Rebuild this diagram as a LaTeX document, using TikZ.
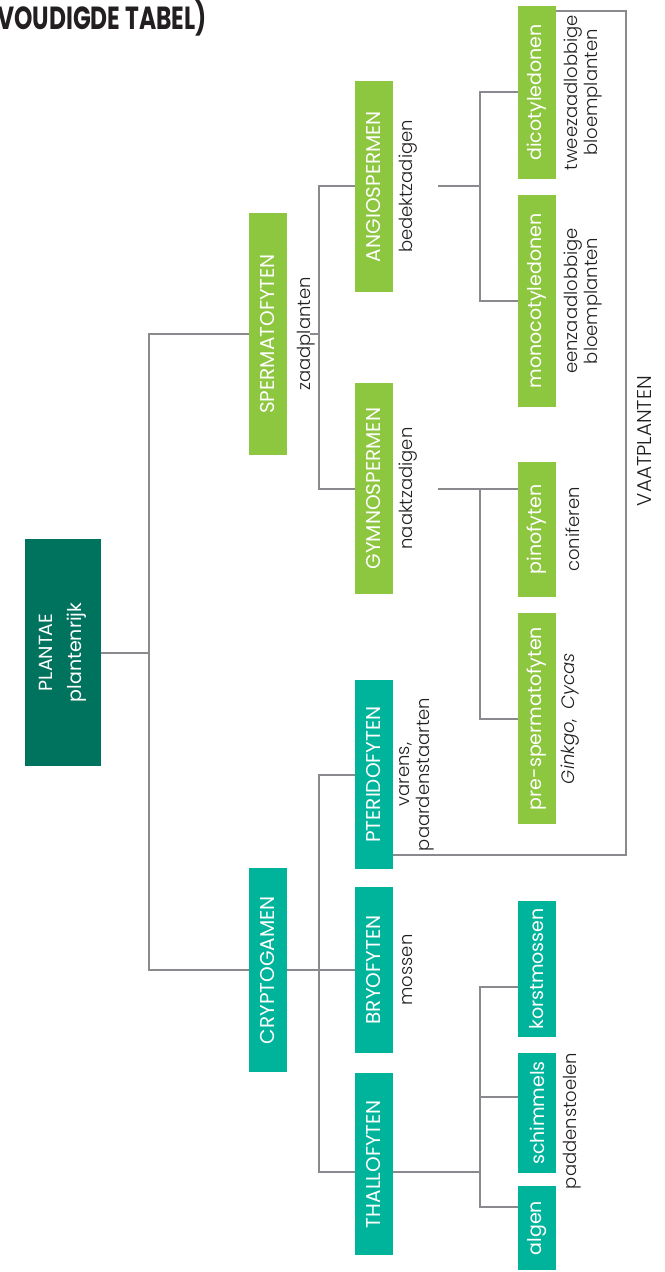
\documentclass[tikz,border=0pt]{standalone}
\usepackage{fontspec}
\setmainfont{Poppins}
\newfontfamily\thinfont{Poppins Light}[ItalicFont={Poppins Light Italic}]
\definecolor{rootgreen}{RGB}{0,115,94}
\definecolor{seedgreen}{RGB}{141,198,63}
\definecolor{sporeteal}{RGB}{0,180,156}
\definecolor{linegray}{RGB}{138,138,142}
\definecolor{inkblack}{RGB}{35,31,32}

\begin{document}
\begin{tikzpicture}[x=0.5pt,y=-0.5pt]
\tikzset{
  groep/.style={rotate=90, minimum height=19pt, inner sep=0pt, text=white,
    font=\fontsize{9.5}{11}\selectfont},
  kop/.style={groep, font=\fontsize{10}{12}\selectfont},
  zaad/.style={fill=seedgreen},
  spoor/.style={fill=sporeteal},
  uitleg/.style={rotate=90, anchor=north, inner sep=0pt, align=center, text=inkblack,
    font=\thinfont\fontsize{9}{10}\selectfont, execute at begin node=\vphantom{dg}},
  tak/.style={draw=linegray, line width=1pt},
}
\useasboundingbox (0,0) rectangle (664,1272);

\node[anchor=base west, inner sep=0pt, text=inkblack, font=\bfseries\fontsize{16}{19}\selectfont]
  (titel) at (-3,30) {\scalebox{0.73}[1]{VOUDIGDE TABEL)}};

% groepen
\node[groep, fill=rootgreen, minimum height=38pt, minimum width=113.5pt, align=center,
  font=\fontsize{9.5}{14.5}\selectfont] (plantae) at (63,652.5) {PLANT\kern-0.06em AE\\plantenrijk};
\node[kop, zaad, minimum width=121pt] (sperma) at (268,334) {SPERMATOFYTEN};
\node[kop, spoor, minimum width=102pt] (crypto) at (268,970) {CRYPTOGAMEN};
\node[kop, zaad, minimum width=105.5pt] (angio) at (374,186.5) {ANGIOSPERMEN};
\node[kop, zaad, minimum width=105.5pt] (gymno) at (374,488.5) {GYMNOSPERMEN};
\node[kop, spoor, minimum width=94.5pt] (pterido) at (374,774.5) {PTERIDOFYTEN};
\node[kop, spoor, minimum width=83pt] (bryo) at (374,970) {BRYOFYTEN};
\node[kop, spoor, minimum width=91pt] (thallo) at (374,1164) {THALLOFYTEN};
\node[groep, zaad, minimum width=86.5pt] (dicot) at (537,92.5) {dicotyledonen};
\node[groep, zaad, minimum width=106pt] (monocot) at (537,301) {monocotyledonen};
\node[groep, zaad, minimum width=67.5pt] (pino) at (537,529.5) {pinofyten};
\node[groep, zaad, minimum width=105.5pt] (presperm) at (537,718.5) {pre-spermatofyten};
\node[groep, spoor, minimum width=68pt] (korst) at (537,969) {korstmossen};
\node[groep, spoor, minimum width=60pt] (schimmel) at (537,1113) {schimmels};
\node[groep, spoor, minimum width=42pt] (algen) at (537,1228) {algen};

% uitleg
\node[uitleg] (zaadpl) at ([xshift=4.5pt]sperma.south) {zaadplanten};
\node[uitleg] (bedekt) at ([xshift=2.5pt]angio.south) {bedektzadigen};
\node[uitleg] (naakt) at ([xshift=2.5pt]gymno.south) {naaktzadigen};
\node[uitleg] (varens) at ([xshift=3pt]pterido.south) {varens,\\paardenstaarten};
\node[uitleg] (mossen) at ([xshift=2.5pt]bryo.south) {mossen};
\node[uitleg] (twee) at ([xshift=3.5pt]dicot.south) {tweezaadlobbige\\bloemplanten};
\node[uitleg] (een) at ([xshift=3.5pt]monocot.south) {eenzaadlobbige\\bloemplanten};
\node[uitleg] (conif) at ([xshift=4.5pt]pino.south) {coniferen};
\node[uitleg] (cycas) at ([xshift=2pt]presperm.south) {\textit{Ginkgo},\hspace{5pt}\textit{Cycas}};
\node[uitleg] (padden) at ([xshift=3pt,yshift=-4pt]schimmel.south) {paddenstoelen};
\node[uitleg, anchor=center, font=\thinfont\fontsize{10}{12}\selectfont] (vaat) at (647,441) {VAATPLANTEN};

% takken
\coordinate (k1) at (149,652.5);
\coordinate (k2) at (319,334);
\coordinate (k3) at (319,970);
\coordinate (k4) at (480,186.5);
\coordinate (k5) at (480,488.5);
\coordinate (k6) at (480,1172);
\coordinate (t1) at (480,987);
\coordinate (t2) at (480,1097);
\coordinate (t3) at (480,1207);
\coordinate (v1) at (626,11);
\coordinate (v2) at (626,855);

\draw[tak] (plantae.south) -- (k1);
\draw[tak] (sperma.north) -| (k1) |- (crypto.north);
\draw[tak] ([xshift=11.5pt]sperma.south) -- (k2);
\draw[tak] (angio.north) -| (k2) |- (gymno.north);
\draw[tak] (crypto.south) -- (bryo.north);
\draw[tak] (pterido.north) -| (k3) |- (thallo.north |- k6);
\draw[tak] ([xshift=22.5pt]angio.south) -- (k4);
\draw[tak] (dicot.north) -| (k4) |- (monocot.north);
\draw[tak] ([xshift=22.5pt]gymno.south) -- (k5) -- (k5 -| pino.north);
\draw[tak] (k5) |- (presperm.north);
\draw[tak] (thallo.south |- k6) -- (k6);
\draw[tak] (korst.north |- t1) -- (t1) -- (t3) -- (algen.north |- t3);
\draw[tak] (t2) -- (schimmel.north |- t2);
\draw[tak] (dicot.south |- v1) -- (v1) -- (v2) -- (pterido.south |- v2);
\end{tikzpicture}
\end{document}
